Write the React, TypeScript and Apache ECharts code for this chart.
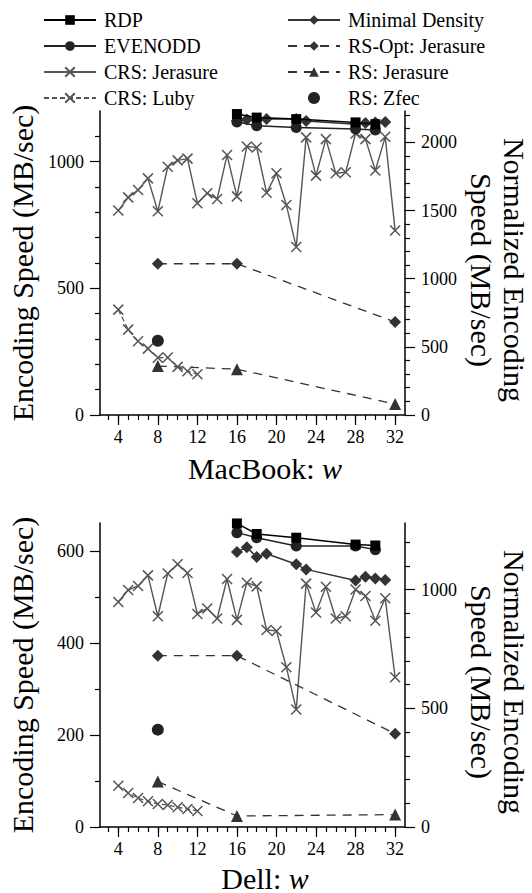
import React, { useEffect, useRef } from "react";
import * as echarts from "echarts";

// ---------- data ----------
const W_CRS = [4, 5, 6, 7, 8, 9, 10, 11, 12, 13, 14, 15, 16, 17, 18, 19, 20, 21, 22, 23, 24, 25, 26, 27, 28, 29, 30, 31, 32];
const W_LUBY = [4, 5, 6, 7, 8, 9, 10, 11, 12];
const W_RS = [8, 16, 32];
const W_ZFEC = [8];
const W_RDP = [16, 18, 22, 28, 30];
const W_MD = [16, 17, 18, 19, 22, 23, 28, 29, 30, 31];

// MacBook
const MAC_RDP = [1188, 1174, 1168, 1155, 1148];
const MAC_EVENODD = [1157, 1142, 1135, 1129, 1125];
const MAC_MD = [1162, 1166, 1164, 1168, 1168, 1161, 1148, 1153, 1155, 1157];
const MAC_CRS_JERASURE = [807, 859, 888, 934, 804, 980, 1005, 1012, 836, 875, 853, 1026, 863, 1060, 1056, 877, 954, 829, 663, 1096, 945, 1089, 954, 958, 1111, 1089, 965, 1098, 728];
const MAC_CRS_LUBY = [416, 337, 291, 262, 226, 227, 190, 173, 161];
const MAC_RS_OPT = [597, 597, 367];
const MAC_RS_JERASURE = [193, 181, 43];
const MAC_ZFEC = [293];

// Dell
const DELL_RDP = [661, 638, 630, 615, 613];
const DELL_EVENODD = [641, 630, 612, 612, 604];
const DELL_MD = [599, 609, 588, 595, 572, 561, 537, 545, 541, 538];
const DELL_CRS_JERASURE = [490, 516, 525, 548, 459, 552, 572, 553, 464, 476, 454, 540, 451, 532, 524, 429, 427, 348, 256, 530, 467, 523, 454, 459, 517, 503, 449, 498, 326];
const DELL_CRS_LUBY = [90, 74, 63, 56, 50, 48, 43, 39, 35];
const DELL_RS_OPT = [373, 373, 203];
const DELL_RS_JERASURE = [99, 24, 27];
const DELL_ZFEC = [212];

// axes / ticks
const X_MAJOR_TICKS = [4, 8, 12, 16, 20, 24, 28, 32];
const X_MINOR_TICKS = [3, 4, 5, 6, 7, 8, 9, 10, 11, 12, 13, 14, 15, 16, 17, 18, 19, 20, 21, 22, 23, 24, 25, 26, 27, 28, 29, 30, 31, 32];
const MAC_LEFT_TICKS = [0, 500, 1000];
const MAC_LEFT_MINOR = [100, 200, 300, 400, 600, 700, 800, 900, 1100];
const MAC_RIGHT_TICKS = [0, 500, 1000, 1500, 2000];
const MAC_RIGHT_MINOR = [100, 200, 300, 400, 600, 700, 800, 900, 1100, 1200, 1300, 1400, 1600, 1700, 1800, 1900, 2100, 2200];
const DELL_LEFT_TICKS = [0, 200, 400, 600];
const DELL_LEFT_MINOR = [100, 300, 500];
const DELL_RIGHT_TICKS = [0, 500, 1000];
const DELL_RIGHT_MINOR = [100, 200, 300, 400, 600, 700, 800, 900, 1100, 1200];

const FONT = "Liberation Serif";
const CROSS = "path://M0,0L10,10M10,0L0,10";

const zip = (xs: number[], ys: number[]) => xs.map((x, i) => [x, ys[i]]);
const serifRich = (size: number) => ({ s: { fontFamily: FONT, fontSize: size, color: "#000" } });
const serifLabel = (v: number | string) => `{s|${v}}`;

function xAxes(gridIndex: number) {
  const base = {
    type: "value",
    gridIndex,
    min: 2.15,
    max: 33,
    position: "bottom",
    splitLine: { show: false },
  };
  return [
    {
      ...base,
      axisLine: { show: true, onZero: false, lineStyle: { color: "#000", width: 1.5 } },
      axisTick: { show: true, customValues: X_MAJOR_TICKS, length: 10, lineStyle: { color: "#000", width: 1.2 } },
      axisLabel: {
        show: true, customValues: X_MAJOR_TICKS, formatter: serifLabel, rich: serifRich(18),
        fontFamily: FONT, fontSize: 18, color: "#000", margin: 13,
      },
    },
    {
      ...base,
      axisLine: { show: false, onZero: false },
      axisTick: { show: true, customValues: X_MINOR_TICKS, length: 5, lineStyle: { color: "#000", width: 1.2 } },
      axisLabel: { show: false },
    },
  ];
}

function yAxes(gridIndex: number, pos: "left" | "right", max: number, major: number[], minor: number[]) {
  const base = {
    type: "value",
    gridIndex,
    min: 0,
    max,
    position: pos,
    splitLine: { show: false },
  };
  return [
    {
      ...base,
      axisLine: { show: true, onZero: false, lineStyle: { color: "#000", width: 1.5 } },
      axisTick: { show: true, customValues: major, length: 10, lineStyle: { color: "#000", width: 1.2 } },
      axisLabel: {
        show: true, customValues: major, formatter: serifLabel, rich: serifRich(18),
        fontFamily: FONT, fontSize: 18, color: "#000", margin: 16,
      },
    },
    {
      ...base,
      axisLine: { show: false, onZero: false },
      axisTick: { show: true, customValues: minor, length: 5, lineStyle: { color: "#000", width: 1.2 } },
      axisLabel: { show: false },
    },
  ];
}

type Set = {
  rdp: number[]; evenodd: number[]; md: number[]; crsJ: number[]; crsL: number[];
  rsOpt: number[]; rsJ: number[]; zfec: number[];
};

function seriesFor(xi: number, yi: number, d: Set) {
  const common = { type: "line", xAxisIndex: xi, yAxisIndex: yi, clip: false, z: 3 };
  return [
    {
      ...common, name: "RDP", data: zip(W_RDP, d.rdp), symbol: "rect", symbolSize: 10, z: 5,
      itemStyle: { color: "#000" }, lineStyle: { color: "#000", width: 1.5 },
    },
    {
      ...common, name: "EVENODD", data: zip(W_RDP, d.evenodd), symbol: "circle", symbolSize: 11, z: 4,
      itemStyle: { color: "#222" }, lineStyle: { color: "#222", width: 1.5 },
    },
    {
      ...common, name: "CRS: Jerasure", data: zip(W_CRS, d.crsJ), symbol: CROSS, symbolSize: 10,
      itemStyle: { color: "#555", borderColor: "#555", borderWidth: 1.5 }, lineStyle: { color: "#555", width: 1.4 },
    },
    {
      ...common, name: "CRS: Luby", data: zip(W_LUBY, d.crsL), symbol: CROSS, symbolSize: 10,
      itemStyle: { color: "#555", borderColor: "#555", borderWidth: 1.5 }, lineStyle: { color: "#555", width: 1.3, type: [5, 3] },
    },
    {
      ...common, name: "Minimal Density", data: zip(W_MD, d.md), symbol: "diamond", symbolSize: 12,
      itemStyle: { color: "#333" }, lineStyle: { color: "#333", width: 1.5 },
    },
    {
      ...common, name: "RS-Opt: Jerasure", data: zip(W_RS, d.rsOpt), symbol: "diamond", symbolSize: 12,
      itemStyle: { color: "#333" }, lineStyle: { color: "#333", width: 1.3, type: [9, 7] },
    },
    {
      ...common, name: "RS: Jerasure", data: zip(W_RS, d.rsJ), symbol: "triangle", symbolSize: 12,
      itemStyle: { color: "#333" }, lineStyle: { color: "#333", width: 1.3, type: [9, 7] },
    },
    {
      type: "scatter", xAxisIndex: xi, yAxisIndex: yi, clip: false, name: "RS: Zfec",
      data: zip(W_ZFEC, d.zfec), symbol: "circle", symbolSize: 12, itemStyle: { color: "#222", opacity: 1 },
    },
  ];
}

function titleTexts(cy: number, xName: string, xNameY: number) {
  return [
    {
      type: "text", x: 22, y: cy, rotation: Math.PI / 2,
      style: { text: "Encoding Speed (MB/sec)", font: `30px "${FONT}"`, fill: "#000", align: "center", verticalAlign: "middle" },
    },
    {
      type: "text", x: 498, y: cy + 7, rotation: -Math.PI / 2,
      style: {
        text: "Normalized Encoding\nSpeed (MB/sec)", font: `30px "${FONT}"`, fill: "#000",
        align: "center", verticalAlign: "middle", lineHeight: 33,
      },
    },
    {
      type: "text", x: 265, y: xNameY,
      style: {
        text: `{a|${xName}: }{b|w}`, fill: "#000", align: "center", verticalAlign: "middle",
        rich: {
          a: { fontFamily: FONT, fontSize: 30, fill: "#000" },
          b: { fontFamily: FONT, fontSize: 30, fontStyle: "italic", fill: "#000" },
        },
      },
    },
  ];
}

export default function App() {
  const ref = useRef<HTMLDivElement>(null);
  useEffect(() => {
    if (!ref.current) return;
    const chart = echarts.init(ref.current, undefined, { renderer: "svg" });
    const legendBase = {
      orient: "vertical", top: 5, itemWidth: 52, itemHeight: 12, itemGap: 6,
      formatter: (name: string) => `{s|${name}}`,
      textStyle: {
        fontFamily: FONT, fontSize: 20, color: "#000", padding: [0, 0, 0, 3],
        rich: { s: { fontFamily: FONT, fontSize: 20, color: "#000" } },
      },
    };
    chart.setOption({
      animation: false,
      backgroundColor: "#fff",
      textStyle: { fontFamily: FONT },
      legend: [
        { ...legendBase, left: 38, data: ["RDP", "EVENODD", "CRS: Jerasure", "CRS: Luby"] },
        { ...legendBase, left: 282, data: ["Minimal Density", "RS-Opt: Jerasure", "RS: Jerasure", "RS: Zfec"] },
      ],
      grid: [
        { left: 100, top: 111, width: 305, height: 304 },
        { left: 100, top: 523, width: 305, height: 304 },
      ],
      xAxis: [...xAxes(0), ...xAxes(1)],
      yAxis: [
        ...yAxes(0, "left", 1200, MAC_LEFT_TICKS, MAC_LEFT_MINOR),
        ...yAxes(0, "right", 2230, MAC_RIGHT_TICKS, MAC_RIGHT_MINOR),
        ...yAxes(1, "left", 662, DELL_LEFT_TICKS, DELL_LEFT_MINOR),
        ...yAxes(1, "right", 1280, DELL_RIGHT_TICKS, DELL_RIGHT_MINOR),
      ],
      series: [
        ...seriesFor(0, 0, {
          rdp: MAC_RDP, evenodd: MAC_EVENODD, md: MAC_MD, crsJ: MAC_CRS_JERASURE, crsL: MAC_CRS_LUBY,
          rsOpt: MAC_RS_OPT, rsJ: MAC_RS_JERASURE, zfec: MAC_ZFEC,
        }),
        ...seriesFor(2, 4, {
          rdp: DELL_RDP, evenodd: DELL_EVENODD, md: DELL_MD, crsJ: DELL_CRS_JERASURE, crsL: DELL_CRS_LUBY,
          rsOpt: DELL_RS_OPT, rsJ: DELL_RS_JERASURE, zfec: DELL_ZFEC,
        }),
      ],
      graphic: [...titleTexts(263, "MacBook", 468), ...titleTexts(675, "Dell", 878)],
    });
    return () => chart.dispose();
  }, []);
  return (
    <div
      ref={ref}
      style={{ position: "absolute", left: 0, top: 0, width: 532, height: 893, background: "#fff" }}
    />
  );
}
